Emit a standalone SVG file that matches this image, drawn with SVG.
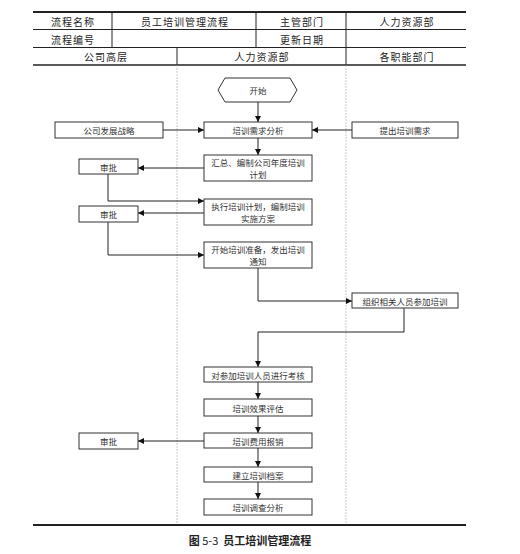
<svg xmlns="http://www.w3.org/2000/svg" width="520" height="554" viewBox="0 0 520 554">
<style>
.hd{font-family:"Noto Sans CJK SC","Noto Sans",sans-serif;font-size:10px;fill:#222;text-anchor:middle;dominant-baseline:central;letter-spacing:1px}
.nt{font-family:"Noto Sans CJK SC","Noto Sans",sans-serif;font-size:8.5px;fill:#333;text-anchor:middle;dominant-baseline:central}
.box{fill:#fff;stroke:#333;stroke-width:1}
.ln{fill:none;stroke:#222;stroke-width:1}
.tl{stroke:#222;stroke-width:1;fill:none}
.cap{font-family:"Noto Sans CJK SC","Noto Sans",sans-serif;font-size:11px;font-weight:bold;fill:#222;text-anchor:middle;dominant-baseline:central}
</style>
<defs>
<marker id="ah" viewBox="0 0 10 10" refX="10" refY="5" markerWidth="6" markerHeight="6" orient="auto" markerUnits="userSpaceOnUse">
<path d="M0,0 L10,5 L0,10 Z" fill="#111"/>
</marker>
</defs>
<rect width="520" height="554" fill="#fff"/>
<g id="header">
<line x1="33" y1="12" x2="466" y2="12" stroke="#222" stroke-width="2"/>
<line class="tl" x1="33" y1="29.5" x2="466" y2="29.5"/>
<line class="tl" x1="33" y1="47.5" x2="466" y2="47.5"/>
<line x1="33" y1="65" x2="466" y2="65" stroke="#222" stroke-width="1.5"/>
<line class="tl" x1="112" y1="12" x2="112" y2="47.5"/>
<line class="tl" x1="256" y1="12" x2="256" y2="47.5"/>
<line class="tl" x1="346" y1="12" x2="346" y2="65"/>
<line class="tl" x1="177" y1="47.5" x2="177" y2="65"/>
<text class="hd" x="73" y="21">流程名称</text>
<text class="hd" x="185" y="21">员工培训管理流程</text>
<text class="hd" x="302" y="21">主管部门</text>
<text class="hd" x="407" y="21">人力资源部</text>
<text class="hd" x="73" y="39">流程编号</text>
<text class="hd" x="302" y="39">更新日期</text>
<text class="hd" x="106" y="56.5">公司高层</text>
<text class="hd" x="262" y="56.5">人力资源部</text>
<text class="hd" x="407" y="56.5">各职能部门</text>
</g>
<g id="lanes">
<line x1="177" y1="65" x2="177" y2="524" stroke="#bbb" stroke-width="0.8" stroke-dasharray="2,1"/>
<line x1="346" y1="65" x2="346" y2="524" stroke="#bbb" stroke-width="0.8" stroke-dasharray="2,1"/>
<line x1="33" y1="525" x2="466" y2="525" stroke="#222" stroke-width="2"/>
</g>
<g id="connectors">
<line class="ln" x1="258" y1="102" x2="258" y2="122" marker-end="url(#ah)"/>
<line class="ln" x1="163" y1="130" x2="204" y2="130" marker-end="url(#ah)"/>
<line class="ln" x1="352" y1="130" x2="312" y2="130" marker-end="url(#ah)"/>
<line class="ln" x1="258" y1="138" x2="258" y2="155" marker-end="url(#ah)"/>
<line class="ln" x1="204" y1="168" x2="138" y2="168" marker-end="url(#ah)"/>
<polyline class="ln" points="108,174 108,201 204,201" marker-end="url(#ah)"/>
<line class="ln" x1="204" y1="213" x2="138" y2="213" marker-end="url(#ah)"/>
<polyline class="ln" points="108,222 108,255 204,255" marker-end="url(#ah)"/>
<polyline class="ln" points="258,268 258,301 352,301" marker-end="url(#ah)"/>
<polyline class="ln" points="404,308 404,332 258,332 258,367" marker-end="url(#ah)"/>
<line class="ln" x1="258" y1="382" x2="258" y2="399" marker-end="url(#ah)"/>
<line class="ln" x1="258" y1="416" x2="258" y2="433" marker-end="url(#ah)"/>
<line class="ln" x1="204" y1="441" x2="138" y2="441" marker-end="url(#ah)"/>
<line class="ln" x1="258" y1="448" x2="258" y2="467" marker-end="url(#ah)"/>
<line class="ln" x1="258" y1="482" x2="258" y2="499" marker-end="url(#ah)"/>
</g>
<g id="start">
<polygon class="box" points="218,90 225,78 290,78 297,90 290,102 225,102"/>
<text class="nt" x="258" y="90">开始</text>
</g>
<g id="n_analysis">
<rect class="box" x="204" y="122" width="108" height="16"/>
<text class="nt" x="258" y="130">培训需求分析</text>
</g>
<g id="n_strategy">
<rect class="box" x="55" y="122" width="108" height="16"/>
<text class="nt" x="109" y="130">公司发展战略</text>
</g>
<g id="n_request">
<rect class="box" x="352" y="122" width="106" height="16"/>
<text class="nt" x="405" y="130">提出培训需求</text>
</g>
<g id="n_plan">
<rect class="box" x="204" y="155" width="108" height="26"/>
<text class="nt" x="258" y="162">汇总、编制公司年度培训</text>
<text class="nt" x="258" y="174">计划</text>
</g>
<g id="n_approve1">
<rect class="box" x="79" y="159" width="59" height="15"/>
<text class="nt" x="108.5" y="166.5">审批</text>
</g>
<g id="n_execute">
<rect class="box" x="204" y="199" width="108" height="26"/>
<text class="nt" x="258" y="206">执行培训计划，编制培训</text>
<text class="nt" x="258" y="218">实施方案</text>
</g>
<g id="n_approve2">
<rect class="box" x="79" y="206" width="59" height="16"/>
<text class="nt" x="108.5" y="214">审批</text>
</g>
<g id="n_prepare">
<rect class="box" x="204" y="242" width="108" height="26"/>
<text class="nt" x="258" y="249">开始培训准备，发出培训</text>
<text class="nt" x="258" y="261">通知</text>
</g>
<g id="n_organize">
<rect class="box" x="352" y="293" width="106" height="15"/>
<text class="nt" x="405" y="300.5">组织相关人员参加培训</text>
</g>
<g id="n_assess">
<rect class="box" x="204" y="367" width="108" height="15"/>
<text class="nt" x="258" y="374.5">对参加培训人员进行考核</text>
</g>
<g id="n_evaluate">
<rect class="box" x="204" y="399" width="108" height="17"/>
<text class="nt" x="258" y="407.5">培训效果评估</text>
</g>
<g id="n_expense">
<rect class="box" x="204" y="433" width="108" height="15"/>
<text class="nt" x="258" y="440.5">培训费用报销</text>
</g>
<g id="n_approve3">
<rect class="box" x="79" y="433" width="59" height="16"/>
<text class="nt" x="108.5" y="441">审批</text>
</g>
<g id="n_archive">
<rect class="box" x="204" y="467" width="108" height="15"/>
<text class="nt" x="258" y="474.5">建立培训档案</text>
</g>
<g id="n_survey">
<rect class="box" x="204" y="499" width="108" height="16"/>
<text class="nt" x="258" y="507">培训调查分析</text>
</g>
<g id="caption">
<text class="cap" x="250" y="540" xml:space="preserve">图 <tspan font-weight="normal">5-3</tspan>  员工培训管理流程</text>
</g>
</svg>
